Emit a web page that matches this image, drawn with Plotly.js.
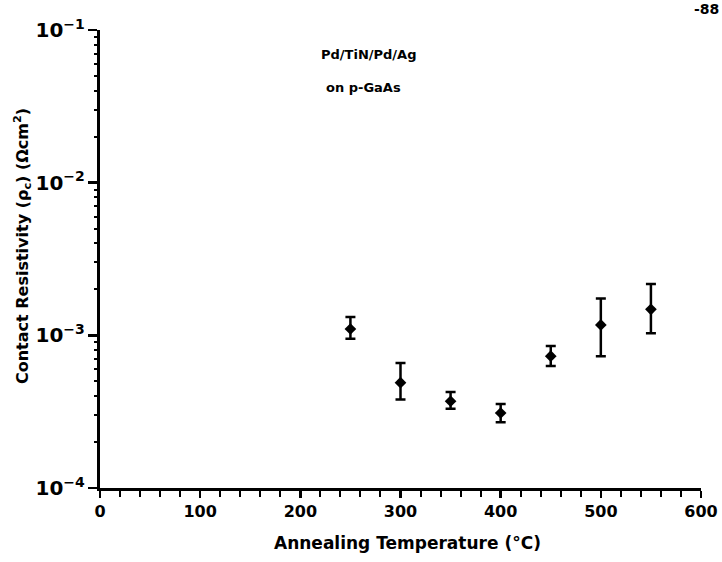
<!DOCTYPE html>
<html>
<head>
<meta charset="utf-8">
<script src="https://cdn.plot.ly/plotly-3.0.1.min.js"></script>
<style>html,body{margin:0;padding:0;background:#fff;}#chart{width:722px;height:562px;}</style>
</head>
<body>
<div id="chart"></div>
<script>
// Annealing temperature (°C)
const temps = [250, 300, 350, 400, 450, 500, 550];
// Contact resistivity (Ω cm²), central values
const rho = [1.10e-3, 4.9e-4, 3.7e-4, 3.1e-4, 7.3e-4, 1.17e-3, 1.48e-3];
// Upper and lower ends of the error bars
const rhoHigh = [1.32e-3, 6.6e-4, 4.25e-4, 3.55e-4, 8.5e-4, 1.74e-3, 2.17e-3];
const rhoLow = [9.5e-4, 3.8e-4, 3.3e-4, 2.7e-4, 6.3e-4, 7.3e-4, 1.03e-3];
// Log-axis decades and minor tick mantissas
const decades = [1e-4, 1e-3, 1e-2];
const mantissas = [2, 3, 4, 5, 6, 7, 8, 9];

const errPlus = rhoHigh.map((h, i) => h - rho[i]);
const errMinus = rho.map((c, i) => c - rhoLow[i]);
const minorTicks = [];
decades.forEach(d => mantissas.forEach(m => minorTicks.push(d * m)));

const font = {family: 'DejaVu Sans, Arial, sans-serif', color: '#000', weight: 'bold'};
const f = s => Object.assign({size: s}, font);

const trace = {
  x: temps, y: rho, type: 'scatter', mode: 'markers',
  marker: {symbol: 'diamond', size: 9, color: '#000'},
  error_y: {type: 'data', symmetric: false, array: errPlus, arrayminus: errMinus,
            color: '#000', thickness: 2.5, width: 5},
  showlegend: false, hoverinfo: 'x+y'
};
// invisible trace on the overlay axis that carries the minor log ticks
const minorTrace = {x: [temps[0]], y: [rho[0]], yaxis: 'y2', type: 'scatter', mode: 'markers',
  marker: {opacity: 0}, showlegend: false, hoverinfo: 'skip'};

const layout = {
  width: 722, height: 562,
  margin: {l: 100, r: 21, t: 30, b: 74},
  paper_bgcolor: '#fff', plot_bgcolor: '#fff',
  font: f(14),
  xaxis: {
    range: [0, 600], dtick: 100, tick0: 0,
    showline: true, linecolor: '#000', linewidth: 3,
    ticks: 'outside', ticklen: 7, tickwidth: 2.5, tickcolor: '#000',
    minor: {dtick: 20, ticks: 'outside', ticklen: 6, tickwidth: 2, tickcolor: '#000'},
    showgrid: false, zeroline: false, mirror: false,
    tickfont: f(16)
  },
  yaxis: {
    type: 'log', range: [-4, -1], dtick: 1,
    exponentformat: 'power',
    showline: true, linecolor: '#000', linewidth: 3,
    ticks: 'outside', ticklen: 9, tickwidth: 2.5, tickcolor: '#000',
    showgrid: false, zeroline: false,
    tickfont: f(16)
  },
  yaxis2: {
    type: 'log', range: [-4, -1], overlaying: 'y', side: 'left',
    tickmode: 'array', tickvals: minorTicks, showticklabels: false,
    ticks: 'outside', ticklen: 5, tickwidth: 2, tickcolor: '#000',
    showgrid: false, zeroline: false, showline: false
  },
  annotations: [
    {xref: 'paper', yref: 'paper', x: (368 - 100) / 601, y: (488 - 55) / 458,
     xanchor: 'center', yanchor: 'middle',
     text: 'Pd/TiN/Pd/Ag', showarrow: false, font: f(13)},
    {xref: 'paper', yref: 'paper', x: (363 - 100) / 601, y: (488 - 88) / 458,
     xanchor: 'center', yanchor: 'middle',
     text: 'on p-GaAs', showarrow: false, font: f(13)},
    {xref: 'paper', yref: 'paper', x: (407 - 100) / 601, y: (488 - 543) / 458,
     xanchor: 'center', yanchor: 'middle',
     text: 'Annealing Temperature (°C)', showarrow: false, font: f(17)},
    {xref: 'paper', yref: 'paper', x: (22 - 100) / 601, y: (488 - 246) / 458,
     xanchor: 'center', yanchor: 'middle',
     text: 'Contact Resistivity (ρ<sub>c</sub>) (Ωcm<sup>2</sup>)', textangle: -90,
     showarrow: false, font: f(16)},
    {xref: 'paper', yref: 'paper', x: (706 - 100) / 601, y: (488 + 1) / 458,
     text: '-88', showarrow: false, yanchor: 'top', xanchor: 'center', font: f(14)}
  ]
};

Plotly.newPlot('chart', [trace, minorTrace], layout, {displayModeBar: false, staticPlot: true});
</script>
</body>
</html>
